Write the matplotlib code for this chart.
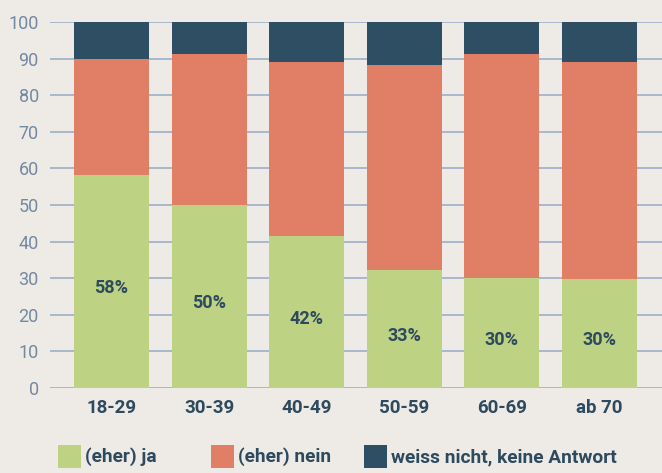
import matplotlib.pyplot as plt
from matplotlib.patches import Rectangle

# Data
categories = ["18-29", "30-39", "40-49", "50-59", "60-69", "ab 70"]
ja = [58.2, 50.0, 41.4, 32.1, 29.9, 29.7]
nein = [31.7, 41.3, 47.7, 56.2, 61.4, 59.4]
weiss = [10.1, 8.7, 10.9, 11.7, 8.7, 10.9]
ja_labels = ["58%", "50%", "42%", "33%", "30%", "30%"]
series_names = ["(eher) ja", "(eher) nein", "weiss nicht, keine Antwort"]

BG = "#eeebe6"
GREEN = "#bdd283"
RED = "#e17f66"
DARK = "#2e4f63"
TEXT = "#2d4a5e"
TICK_GREY = "#7389a2"
GRID = "#a3b3c9"

plt.rcParams["font.family"] = ["Roboto", "DejaVu Sans"]

W, H = 662, 473
fig = plt.figure(figsize=(W / 100, H / 100), dpi=100, facecolor=BG)
ax = fig.add_axes([0.0755, 0.18, 0.9245, 0.7735], facecolor=BG)

x = list(range(len(categories)))
width = 0.77
bottom_nein = ja
bottom_weiss = [a + b for a, b in zip(ja, nein)]

ax.bar(x, ja, width=width, color=GREEN, zorder=3)
ax.bar(x, nein, width=width, bottom=bottom_nein, color=RED, zorder=3)
ax.bar(x, weiss, width=width, bottom=bottom_weiss, color=DARK, zorder=3)

# Percent labels in the green segments
for xi, v, lab in zip(x, ja, ja_labels):
    ax.text(xi, v / 2 - 1.8, lab, ha="center", va="center", fontsize=13,
            fontweight="bold", color=TEXT, zorder=4)

ax.set_xlim(-0.63, 5.64)
ax.set_ylim(0, 100)
ax.set_yticks(range(0, 101, 10))
ax.yaxis.grid(True, color=GRID, linewidth=1.3, zorder=0)
ax.set_axisbelow(True)
for s in ax.spines.values():
    s.set_visible(False)

ax.set_xticks(x)
ax.set_xticklabels(categories, fontsize=13.5, fontweight="bold", color=TEXT)
ax.tick_params(axis="both", length=0)
ax.tick_params(axis="x", pad=8)
ax.tick_params(axis="y", pad=8, labelsize=13, labelcolor=TICK_GREY)

# Legend: fixed slots along the bottom
legend_x = [58, 211, 364]
for lx, name, c in zip(legend_x, series_names, (GREEN, RED, DARK)):
    fig.patches.append(Rectangle((lx / W, (H - 468) / H), 23 / W, 23 / H,
                                 transform=fig.transFigure, facecolor=c,
                                 edgecolor="none"))
    fig.text((lx + 27) / W, (H - 457) / H, name, ha="left", va="center",
             fontsize=13.8, fontweight="bold", color=TEXT)

fig.savefig("out.png", dpi=100, facecolor=BG)
